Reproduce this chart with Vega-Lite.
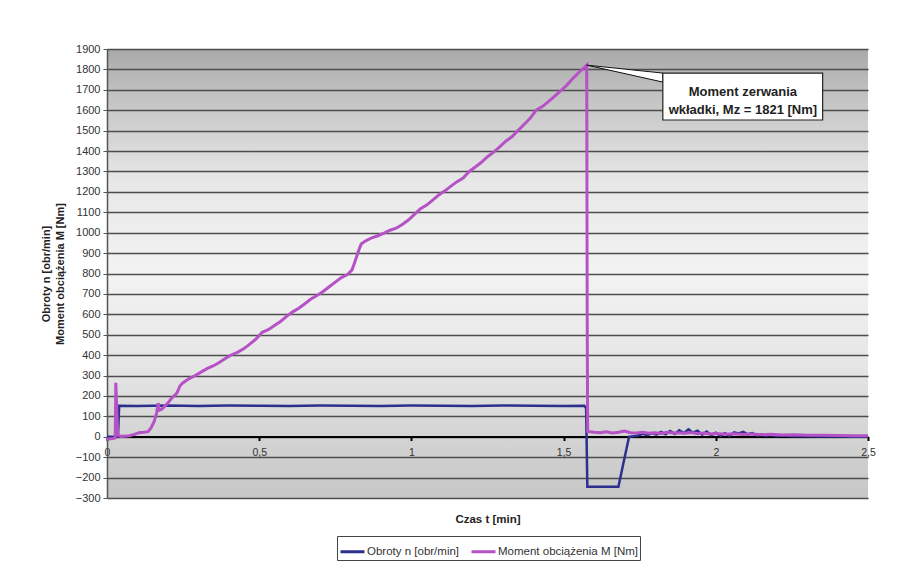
{
  "$schema": "https://vega.github.io/schema/vega-lite/v6.json",
  "width": 761,
  "height": 449,
  "autosize": {"type": "none"},
  "padding": {"left": 107, "top": 49, "right": 55, "bottom": 79},
  "background": "#ffffff",
  "config": {
    "font": "Liberation Sans",
    "axis": {"labelOverlap": false},
    "axisY": {"labelOverlap": false},
    "view": {
      "stroke": null,
      "fill": {
        "gradient": "linear",
        "x1": 0, "y1": 0, "x2": 0, "y2": 1,
        "stops": [
          {"offset": 0, "color": "#a9a9a9"},
          {"offset": 0.12, "color": "#c6c6c6"},
          {"offset": 0.3, "color": "#e8e8e8"},
          {"offset": 0.5, "color": "#f3f3f3"},
          {"offset": 0.7, "color": "#e6e6e6"},
          {"offset": 0.88, "color": "#d2d2d2"},
          {"offset": 1, "color": "#c6c6c6"}
        ]
      }
    }
  },
  "layer": [
    {
      "data": {"values": [
        {"t": 0, "v": 0}, {"t": 0.036, "v": 0}, {"t": 0.04, "v": 152},
        {"t": 0.1, "v": 151}, {"t": 0.2, "v": 153}, {"t": 0.3, "v": 151}, {"t": 0.4, "v": 153},
        {"t": 0.5, "v": 152}, {"t": 0.6, "v": 151}, {"t": 0.7, "v": 153}, {"t": 0.8, "v": 152},
        {"t": 0.9, "v": 151}, {"t": 1.0, "v": 153}, {"t": 1.1, "v": 152}, {"t": 1.2, "v": 151},
        {"t": 1.3, "v": 153}, {"t": 1.4, "v": 152}, {"t": 1.5, "v": 151}, {"t": 1.568, "v": 152},
        {"t": 1.574, "v": 140}, {"t": 1.578, "v": -245}, {"t": 1.68, "v": -245}, {"t": 1.715, "v": 0},
        {"t": 1.73, "v": 3}, {"t": 1.745, "v": 6}, {"t": 1.76, "v": 14}, {"t": 1.775, "v": 8},
        {"t": 1.79, "v": 18}, {"t": 1.805, "v": 10}, {"t": 1.82, "v": 24}, {"t": 1.835, "v": 12},
        {"t": 1.85, "v": 28}, {"t": 1.865, "v": 14}, {"t": 1.88, "v": 32}, {"t": 1.895, "v": 18},
        {"t": 1.91, "v": 36}, {"t": 1.925, "v": 20}, {"t": 1.94, "v": 30}, {"t": 1.955, "v": 10},
        {"t": 1.97, "v": 26}, {"t": 1.985, "v": 8}, {"t": 2.0, "v": 20}, {"t": 2.015, "v": 5},
        {"t": 2.03, "v": 18}, {"t": 2.045, "v": 4}, {"t": 2.06, "v": 22}, {"t": 2.075, "v": 16},
        {"t": 2.09, "v": 24}, {"t": 2.105, "v": 12}, {"t": 2.12, "v": 18}, {"t": 2.135, "v": 6},
        {"t": 2.15, "v": 12}, {"t": 2.165, "v": 4}, {"t": 2.18, "v": 8}, {"t": 2.2, "v": 3},
        {"t": 2.22, "v": 6}, {"t": 2.25, "v": 2}, {"t": 2.3, "v": 3}, {"t": 2.35, "v": 1},
        {"t": 2.4, "v": 2}, {"t": 2.45, "v": 0}, {"t": 2.5, "v": 0}
      ]},
      "mark": {"type": "line", "strokeWidth": 2.5, "interpolate": "linear"},
      "encoding": {
        "x": {
          "field": "t", "type": "quantitative",
          "scale": {"domain": [0, 2.5], "nice": false, "zero": false},
          "axis": {
            "title": "Czas t [min]",
            "offset": -61.5,
            "values": [0, 0.5, 1, 1.5, 2, 2.5],
            "labelExpr": "replace(format(datum.value, '~g'), '.', ',')",
            "grid": false,
            "domainColor": "#000000",
            "domainWidth": 2,
            "tickColor": "#000000",
            "tickWidth": 2,
            "tickSize": 4,
            "labelPadding": 7,
            "labelFlush": false,
            "labelOverlap": false,
            "labelFontSize": 10.5,
            "labelColor": "#333333",
            "titleFontSize": 11.5,
            "titleFontWeight": "bold",
            "titleColor": "#222222",
            "titleY": 83,
            "titleBaseline": "middle"
          }
        },
        "y": {
          "field": "v", "type": "quantitative",
          "scale": {"domain": [-300, 1900], "nice": false, "zero": false},
          "axis": {
            "title": ["Obroty n [obr/min]", "Moment obciążenia M [Nm]"],
            "values": [-300, -200, -100, 0, 100, 200, 300, 400, 500, 600, 700, 800, 900, 1000, 1100, 1200, 1300, 1400, 1500, 1600, 1700, 1800, 1900],
            "tickCount": 23,
            "format": "d",
            "labelOverlap": false,
            "labelFlush": false,
            "labelBound": false,
            "grid": true,
            "gridColor": "#4d4d4d",
            "gridWidth": 1.5,
            "domainColor": "#555555",
            "domainWidth": 1.5,
            "tickColor": "#555555",
            "tickSize": 4,
            "labelPadding": 3,
            "labelFontSize": 11,
            "labelColor": "#333333",
            "titleFontSize": 11,
            "titleFontWeight": "bold",
            "titleColor": "#222222",
            "titleX": -56,
            "titleBaseline": "bottom",
            "titleLineHeight": 14
          }
        },
        "color": {
          "datum": "Obroty n [obr/min]",
          "type": "nominal",
          "scale": {
            "domain": ["Obroty n [obr/min]", "Moment obciążenia M [Nm]"],
            "range": ["#2c2f8e", "#b552c5"]
          },
          "legend": {
            "title": null,
            "orient": "none",
            "legendX": 230,
            "legendY": 487,
            "direction": "horizontal",
            "symbolType": "stroke",
            "symbolSize": 576,
            "symbolStrokeWidth": 3,
            "symbolOffset": 0,
            "labelOffset": 1,
            "labelFontSize": 11.5,
            "labelColor": "#333333",
            "columnPadding": 5,
            "padding": 2,
            "strokeColor": "#444444",
            "fillColor": "#ffffff"
          }
        }
      }
    },
    {
      "data": {"values": [
        {"t": 0, "v": -12}, {"t": 0.01, "v": -10}, {"t": 0.02, "v": -8}, {"t": 0.027, "v": -5},
        {"t": 0.029, "v": 265}, {"t": 0.032, "v": 140}, {"t": 0.035, "v": 10}, {"t": 0.045, "v": 2},
        {"t": 0.06, "v": 3}, {"t": 0.075, "v": 5}, {"t": 0.09, "v": 12}, {"t": 0.105, "v": 20},
        {"t": 0.12, "v": 22}, {"t": 0.135, "v": 25}, {"t": 0.145, "v": 45}, {"t": 0.155, "v": 75},
        {"t": 0.163, "v": 115}, {"t": 0.168, "v": 165}, {"t": 0.172, "v": 130}, {"t": 0.18, "v": 135},
        {"t": 0.19, "v": 150}, {"t": 0.2, "v": 165}, {"t": 0.21, "v": 185}, {"t": 0.22, "v": 200},
        {"t": 0.23, "v": 215}, {"t": 0.24, "v": 250}, {"t": 0.25, "v": 265}, {"t": 0.27, "v": 285},
        {"t": 0.29, "v": 300}, {"t": 0.31, "v": 318}, {"t": 0.33, "v": 335}, {"t": 0.35, "v": 348},
        {"t": 0.37, "v": 365}, {"t": 0.39, "v": 385}, {"t": 0.41, "v": 402}, {"t": 0.43, "v": 415},
        {"t": 0.45, "v": 432}, {"t": 0.47, "v": 455}, {"t": 0.49, "v": 480}, {"t": 0.51, "v": 512},
        {"t": 0.53, "v": 525}, {"t": 0.55, "v": 545}, {"t": 0.57, "v": 565}, {"t": 0.59, "v": 590},
        {"t": 0.61, "v": 612}, {"t": 0.63, "v": 630}, {"t": 0.65, "v": 652}, {"t": 0.67, "v": 675},
        {"t": 0.69, "v": 692}, {"t": 0.71, "v": 712}, {"t": 0.73, "v": 735}, {"t": 0.75, "v": 758},
        {"t": 0.77, "v": 780}, {"t": 0.79, "v": 795}, {"t": 0.805, "v": 818}, {"t": 0.815, "v": 860},
        {"t": 0.825, "v": 905}, {"t": 0.835, "v": 945}, {"t": 0.85, "v": 960}, {"t": 0.87, "v": 975},
        {"t": 0.89, "v": 985}, {"t": 0.91, "v": 998}, {"t": 0.93, "v": 1012}, {"t": 0.95, "v": 1022},
        {"t": 0.97, "v": 1040}, {"t": 0.99, "v": 1062}, {"t": 1.01, "v": 1090}, {"t": 1.03, "v": 1118},
        {"t": 1.05, "v": 1135}, {"t": 1.07, "v": 1160}, {"t": 1.09, "v": 1185}, {"t": 1.11, "v": 1205},
        {"t": 1.13, "v": 1228}, {"t": 1.15, "v": 1250}, {"t": 1.17, "v": 1268}, {"t": 1.19, "v": 1300},
        {"t": 1.21, "v": 1322}, {"t": 1.23, "v": 1345}, {"t": 1.25, "v": 1372}, {"t": 1.27, "v": 1395},
        {"t": 1.29, "v": 1420}, {"t": 1.31, "v": 1448}, {"t": 1.33, "v": 1470}, {"t": 1.35, "v": 1500},
        {"t": 1.37, "v": 1530}, {"t": 1.39, "v": 1560}, {"t": 1.41, "v": 1600}, {"t": 1.43, "v": 1618},
        {"t": 1.45, "v": 1642}, {"t": 1.47, "v": 1668}, {"t": 1.49, "v": 1695}, {"t": 1.51, "v": 1722},
        {"t": 1.53, "v": 1755}, {"t": 1.55, "v": 1785}, {"t": 1.565, "v": 1805}, {"t": 1.576, "v": 1821},
        {"t": 1.5775, "v": 600}, {"t": 1.579, "v": 26}, {"t": 1.6, "v": 22}, {"t": 1.62, "v": 20},
        {"t": 1.64, "v": 24}, {"t": 1.66, "v": 19}, {"t": 1.68, "v": 22}, {"t": 1.7, "v": 28},
        {"t": 1.72, "v": 20}, {"t": 1.74, "v": 18}, {"t": 1.76, "v": 22}, {"t": 1.78, "v": 17},
        {"t": 1.8, "v": 20}, {"t": 1.82, "v": 16}, {"t": 1.84, "v": 22}, {"t": 1.86, "v": 18},
        {"t": 1.88, "v": 20}, {"t": 1.9, "v": 17}, {"t": 1.92, "v": 21}, {"t": 1.94, "v": 15},
        {"t": 1.96, "v": 18}, {"t": 1.98, "v": 14}, {"t": 2.0, "v": 16}, {"t": 2.03, "v": 12},
        {"t": 2.06, "v": 15}, {"t": 2.09, "v": 11}, {"t": 2.12, "v": 13}, {"t": 2.15, "v": 10},
        {"t": 2.18, "v": 12}, {"t": 2.22, "v": 9}, {"t": 2.26, "v": 10}, {"t": 2.3, "v": 8},
        {"t": 2.35, "v": 7}, {"t": 2.4, "v": 6}, {"t": 2.45, "v": 5}, {"t": 2.5, "v": 5}
      ]},
      "mark": {"type": "line", "strokeWidth": 3, "interpolate": "linear"},
      "encoding": {
        "x": {"field": "t", "type": "quantitative"},
        "y": {"field": "v", "type": "quantitative"},
        "color": {"datum": "Moment obciążenia M [Nm]", "type": "nominal"}
      }
    },
    {
      "data": {"values": [
        {"t": 1.576, "v": 1821, "v2": 1821},
        {"t": 1.826, "v": 1782, "v2": 1738}
      ]},
      "mark": {"type": "area", "fill": "#ffffff", "stroke": "#111111", "strokeWidth": 1, "opacity": 1},
      "encoding": {
        "x": {"field": "t", "type": "quantitative"},
        "y": {"field": "v", "type": "quantitative"},
        "y2": {"field": "v2"}
      }
    },
    {
      "data": {"values": [
        {"t": 1.826, "t2": 2.351, "v": 1782, "v2": 1552}
      ]},
      "mark": {"type": "rect", "fill": "#ffffff", "stroke": "#222222", "strokeWidth": 1.2},
      "encoding": {
        "x": {"field": "t", "type": "quantitative"},
        "x2": {"field": "t2"},
        "y": {"field": "v", "type": "quantitative"},
        "y2": {"field": "v2"}
      }
    },
    {
      "data": {"values": [
        {"t": 2.089, "v": 1687, "label": "Moment zerwania\nwkładki, Mz = 1821 [Nm]"}
      ]},
      "mark": {"type": "text", "lineBreak": "\n", "fontSize": 13, "fontWeight": "bold", "color": "#222222", "align": "center", "baseline": "middle", "lineHeight": 18},
      "encoding": {
        "x": {"field": "t", "type": "quantitative"},
        "y": {"field": "v", "type": "quantitative"},
        "text": {"field": "label"}
      }
    }
  ]
}
